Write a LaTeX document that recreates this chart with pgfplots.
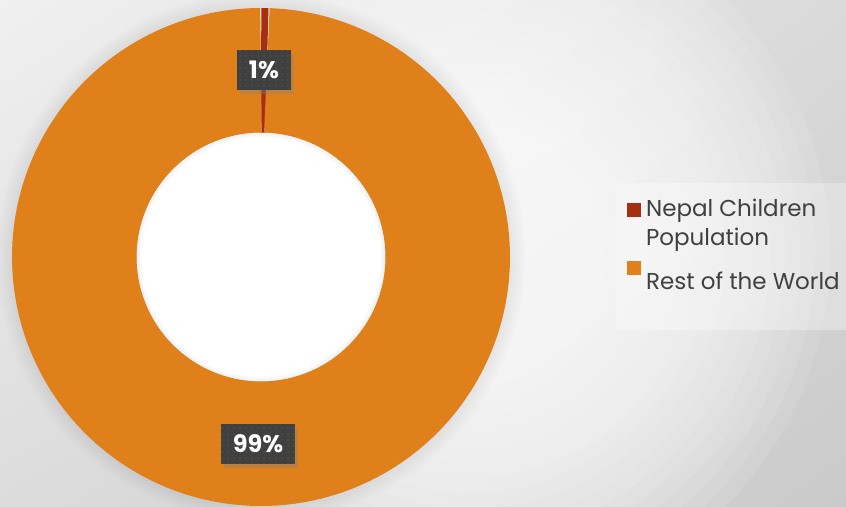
\documentclass[border=0pt]{standalone}
\usepackage{pgfplots}
\pgfplotsset{compat=1.18}
\usepackage{pgfplotstable}
\usepackage{fontspec}
\setmainfont{Poppins}
\usetikzlibrary{shadows,shadings,patterns.meta}

\definecolor{nepal}{HTML}{A53010}
\definecolor{rest}{HTML}{DF801A}
\definecolor{lblbg}{HTML}{404040}
\definecolor{lbldot}{HTML}{545454}
\definecolor{txt}{HTML}{404040}
\definecolor{bgUL}{HTML}{F0F0F0}
\definecolor{bgUR}{HTML}{DADADA}
\definecolor{bgLL}{HTML}{DCDCDC}
\definecolor{bgLR}{HTML}{CACACA}

\pgfplotstableread{
name value
Nepal 0.5
Rest 99.5
}\datatable

\begin{document}
\begin{tikzpicture}[x=1pt,y=1pt]
\path[use as bounding box] (0,0) rectangle (846,506);
\shade[upper left=bgUL, upper right=bgUR, lower left=bgLL, lower right=bgLR] (0,0) rectangle (846,506);
\begin{scope}
\clip (0,0) rectangle (846,506);
\foreach \r in {360,345,...,135} {\fill[white, opacity=0.1] (470,253) circle (\r);}
% soft shadow around the ring and inside the hole
\foreach \k in {3,6,...,15} {\fill[black, opacity=0.012] (261,249) circle ({249+\k});}
\fill[white] (261,249) circle (124.5);
\foreach \k in {2,4,...,10} {\draw[black, opacity=0.012, line width=\k pt] (261,249) circle (124.5);}
\end{scope}
\fill[white, opacity=0.3] (616,176) rectangle (846,323);

\pgfplotstablegetelem{0}{value}\of\datatable \pgfmathsetmacro\va{\pgfplotsretval}
\pgfplotstablegetelem{1}{value}\of\datatable \pgfmathsetmacro\vb{\pgfplotsretval}
\pgfmathsetmacro\tot{\va+\vb}
\pgfmathsetmacro\fa{\va/\tot}
\pgfmathsetmacro\fb{\vb/\tot}
\pgfmathsetmacro\aA{90}
\pgfmathsetmacro\aB{90-360*\fa}
\pgfmathsetmacro\aC{\aB-360*\fb}
\pgfmathsetmacro\mA{(\aA+\aB)/2}
\pgfmathsetmacro\mB{(\aB+\aC)/2}

\begin{axis}[
  at={(0,0)}, anchor=south west,
  x=1pt, y=1pt,
  xmin=0, xmax=846, ymin=0, ymax=506,
  hide axis, clip=false,
  legend cell align=left,
  legend style={draw=none, fill=none, at={(0.741,0.611)}, anchor=north west,
    inner sep=0pt, font=\fontsize{23}{29}\selectfont, text=txt,
    cells={align=left}, row sep=12pt},
]
\addplot[draw=nepal, line width=124.5pt, line cap=butt, domain=\aB:\aA, samples=6, forget plot]
  ({261+186.75*cos(x)},{249+186.75*sin(x)});
\addplot[draw=rest, line width=124.5pt, line cap=butt, domain=\aC:\aB, samples=241, forget plot]
  ({261+186.75*cos(x)},{249+186.75*sin(x)});

\addlegendimage{draw=none, legend image code/.code={\fill[nepal] (0pt,6pt) rectangle (14pt,20pt); \path[draw=none,fill=none] (0pt,6pt) rectangle (17pt,20pt);}}
\addlegendentry{Nepal Children\\Population}
\addlegendimage{draw=none, legend image code/.code={\fill[rest] (0pt,6pt) rectangle (14pt,20pt); \path[draw=none,fill=none] (0pt,6pt) rectangle (17pt,20pt);}}
\addlegendentry{Rest of the World}

\tikzset{lbl/.style={preaction={drop shadow={shadow xshift=3pt, shadow yshift=-4pt, opacity=0.35}},
  preaction={fill=lblbg}, pattern={Dots[distance=6pt, radius=0.8pt]}, pattern color=lbldot,
  text=white, font=\bfseries\fontsize{24}{24}\selectfont, minimum height=40pt, inner xsep=12pt}}
\node[lbl] at (axis cs:{261+186.75*cos(\mA)},{249+186.75*sin(\mA)}) {1\%};
\node[lbl] at (axis cs:{261+186.75*cos(\mB)},{249+186.75*sin(\mB)}) {99\%};
\end{axis}
\end{tikzpicture}
\end{document}
